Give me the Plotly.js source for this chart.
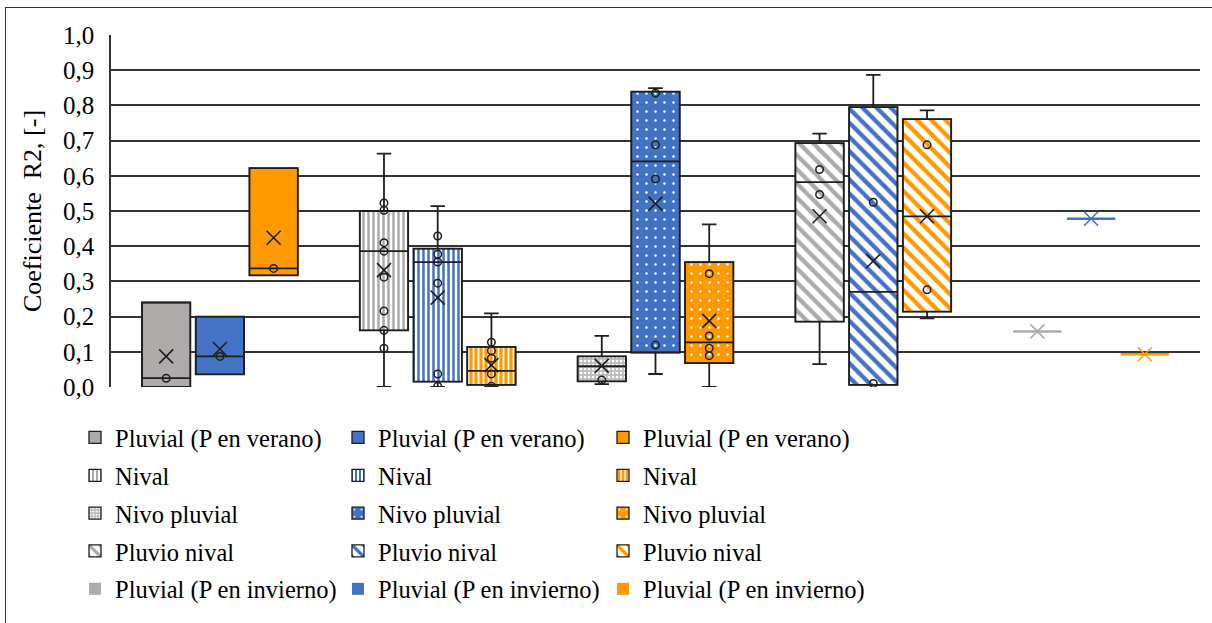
<!DOCTYPE html>
<html><head><meta charset="utf-8">
<script src="https://cdn.plot.ly/plotly-3.0.1.min.js"></script>
<style>
html,body{margin:0;padding:0;background:#fff;}
#wrap{position:relative;width:1212px;height:623px;overflow:hidden;}
#chart{width:1212px;height:623px;}
#frame{position:absolute;left:5px;top:7px;width:1240px;height:660px;border-left:1.5px solid #333;border-top:1.5px solid #333;pointer-events:none;}
</style></head><body>
<div id="wrap"><div id="chart"></div><div id="frame"></div></div>
<script>
// ---- data ----
const categories = ['Pluvial (P en verano)', 'Nival', 'Nivo pluvial', 'Pluvio nival', 'Pluvial (P en invierno)'];

const grayQ1     = [0.000, 0.161, 0.016, 0.186, 0.158];
const grayMedian = [0.025, 0.386, 0.059, 0.582, 0.158];
const grayQ3     = [0.240, 0.500, 0.087, 0.693, 0.158];
const grayLower  = [0.000, 0.000, 0.008, 0.065, 0.158];
const grayUpper  = [0.240, 0.663, 0.145, 0.720, 0.158];
const grayMean   = [0.087, 0.332, 0.060, 0.485, 0.158];
const grayPoints = [[0.025], [0.523, 0.502, 0.410, 0.386, 0.312, 0.216, 0.161, 0.110], [0.020], [0.618, 0.547], []];

const blueQ1     = [0.036, 0.015, 0.098, 0.006, 0.478];
const blueMedian = [0.087, 0.355, 0.641, 0.270, 0.478];
const blueQ3     = [0.200, 0.393, 0.839, 0.795, 0.478];
const blueLower  = [0.036, 0.000, 0.037, 0.006, 0.478];
const blueUpper  = [0.200, 0.514, 0.849, 0.887, 0.478];
const blueMean   = [0.108, 0.254, 0.521, 0.358, 0.478];
const bluePoints = [[0.087], [0.429, 0.377, 0.355, 0.295, 0.037, 0.002], [0.835, 0.688, 0.591, 0.119], [0.525, 0.010], []];

const orangeQ1     = [0.317, 0.006, 0.068, 0.214, 0.093];
const orangeMedian = [0.337, 0.046, 0.127, 0.485, 0.093];
const orangeQ3     = [0.622, 0.114, 0.355, 0.761, 0.093];
const orangeLower  = [0.317, 0.000, 0.000, 0.195, 0.093];
const orangeUpper  = [0.622, 0.209, 0.462, 0.786, 0.093];
const orangeMean   = [0.424, 0.062, 0.188, 0.485, 0.093];
const orangePoints = [[0.337], [0.127, 0.103, 0.082, 0.037, 0.002], [0.322, 0.145, 0.110, 0.089], [0.688, 0.276], []];

const yTickVals = [0, 0.1, 0.2, 0.3, 0.4, 0.5, 0.6, 0.7, 0.8, 0.9, 1.0];

// ---- styling ----
const SERIF = 'Liberation Serif';
const groups = [
  {key: 'gris',    color: '#AEAAAA', q1: grayQ1,   med: grayMedian,   q3: grayQ3,   lo: grayLower,   hi: grayUpper,   mean: grayMean,   pts: grayPoints,   legend: 'legend'},
  {key: 'azul',    color: '#4472C4', q1: blueQ1,   med: blueMedian,   q3: blueQ3,   lo: blueLower,   hi: blueUpper,   mean: blueMean,   pts: bluePoints,   legend: 'legend2'},
  {key: 'naranja', color: '#FF9900', q1: orangeQ1, med: orangeMedian, q3: orangeQ3, lo: orangeLower, hi: orangeUpper, mean: orangeMean, pts: orangePoints, legend: 'legend3'}
];
const DARK = '#1e1e1e';

function patternFor(catIdx, g) {
  if (catIdx === 1) {
    if (g.key === 'naranja') return {shape: '|', fgcolor: '#ffffff', bgcolor: g.color, size: 5, solidity: 0.35};
    return {shape: '|', fgcolor: g.color, bgcolor: '#ffffff', size: 5, solidity: 0.5};
  }
  if (catIdx === 2) {
    if (g.key === 'gris') return {shape: '.', fgcolor: '#ffffff', bgcolor: '#BDBABA', size: 4, solidity: 0.35};
    return {shape: '.', fgcolor: '#ffffff', bgcolor: g.color, size: 9, solidity: 0.06};
  }
  if (catIdx === 3) return {shape: '\\', fgcolor: g.color, bgcolor: '#ffffff', size: 10, solidity: 0.42};
  return {shape: ''};
}

const traces = [];
// patterned box bodies (also give the legend entries)
categories.forEach((cat, i) => {
  groups.forEach((g) => {
    const single = (i === categories.length - 1);
    traces.push({
      type: 'bar', x: [cat], base: [g.q1[i]], y: [g.q3[i] - g.q1[i]],
      name: cat, offsetgroup: g.key, legend: g.legend, legendgroup: g.key + i,
      marker: {color: g.color, pattern: patternFor(i, g), line: {color: single ? g.color : DARK, width: single ? 0 : 1.3}},
      hoverinfo: 'skip'
    });
  });
});
// box outlines, medians and whiskers
categories.forEach((cat, i) => {
  groups.forEach((g) => {
    const single = (i === categories.length - 1);
    traces.push({
      type: 'box', x: [cat], q1: [g.q1[i]], median: [g.med[i]], q3: [g.q3[i]],
      lowerfence: [g.lo[i]], upperfence: [g.hi[i]],
      offsetgroup: g.key, showlegend: false, boxpoints: false,
      fillcolor: 'rgba(0,0,0,0)', whiskerwidth: 0.3,
      line: {color: single ? g.color : DARK, width: single ? 2.5 : 1.8}
    });
  });
});
// inner points and means
groups.forEach((g) => {
  const xs = [], ys = [];
  g.pts.forEach((arr, i) => arr.forEach(v => { xs.push(categories[i]); ys.push(v); }));
  traces.push({
    type: 'scatter', mode: 'markers', x: xs, y: ys, offsetgroup: g.key, showlegend: false,
    marker: {symbol: 'circle-open', size: 7.5, color: DARK, line: {width: 1.5}}
  });
  traces.push({
    type: 'scatter', mode: 'markers', x: categories, y: g.mean, offsetgroup: g.key, showlegend: false,
    marker: {symbol: 'x-thin-open', size: 14, color: categories.map((c, i) => i === categories.length - 1 ? g.color : DARK), line: {width: 1.6}}
  });
});

// plot-area geometry in pixels
const W = 1212, H = 623, L = 111, R = 12, T = 35, B = 235;
const pw = W - L - R, ph = H - T - B;
const legendTopPx = 415;
const legY = -(legendTopPx - (H - B)) / ph;
function legX(px) { return (px - L) / pw; }
const legBase = {orientation: 'v', xanchor: 'left', y: legY, yanchor: 'top', traceorder: 'grouped', tracegroupgap: 3,
  font: {family: SERIF, size: 24.5, color: '#000'}, bgcolor: 'rgba(0,0,0,0)', borderwidth: 0};

const layout = {
  width: W, height: H,
  margin: {l: L, r: R, t: T, b: B, pad: 0},
  paper_bgcolor: '#ffffff', plot_bgcolor: '#ffffff',
  font: {family: SERIF, color: '#000', size: 24},
  separators: ',.',
  showlegend: true,
  xaxis: {type: 'category', categoryorder: 'array', categoryarray: categories, showticklabels: false,
    showgrid: false, zeroline: false, showline: false, ticks: ''},
  yaxis: {range: [0, 1], tickvals: yTickVals, tickformat: '.1f', showgrid: true, gridcolor: '#333333', gridwidth: 1.5,
    zeroline: false, showline: true, linecolor: '#333333', linewidth: 1.5, ticks: '', ticklabelstandoff: 10,
    tickfont: {family: SERIF, size: 25},
    title: {text: 'Coeficiente  R2, [-]', font: {family: SERIF, size: 26}, standoff: 14}},
  barmode: 'group', bargap: 0.26, bargroupgap: 0.1,
  boxmode: 'group', boxgap: 0.26, boxgroupgap: 0.1,
  scattermode: 'group', scattergap: 0.26,
  legend:  Object.assign({}, legBase, {x: legX(75)}),
  legend2: Object.assign({}, legBase, {x: legX(338)}),
  legend3: Object.assign({}, legBase, {x: legX(603)}),
  hovermode: false
};

Plotly.newPlot('chart', traces, layout, {displayModeBar: false});
</script>
</body></html>
